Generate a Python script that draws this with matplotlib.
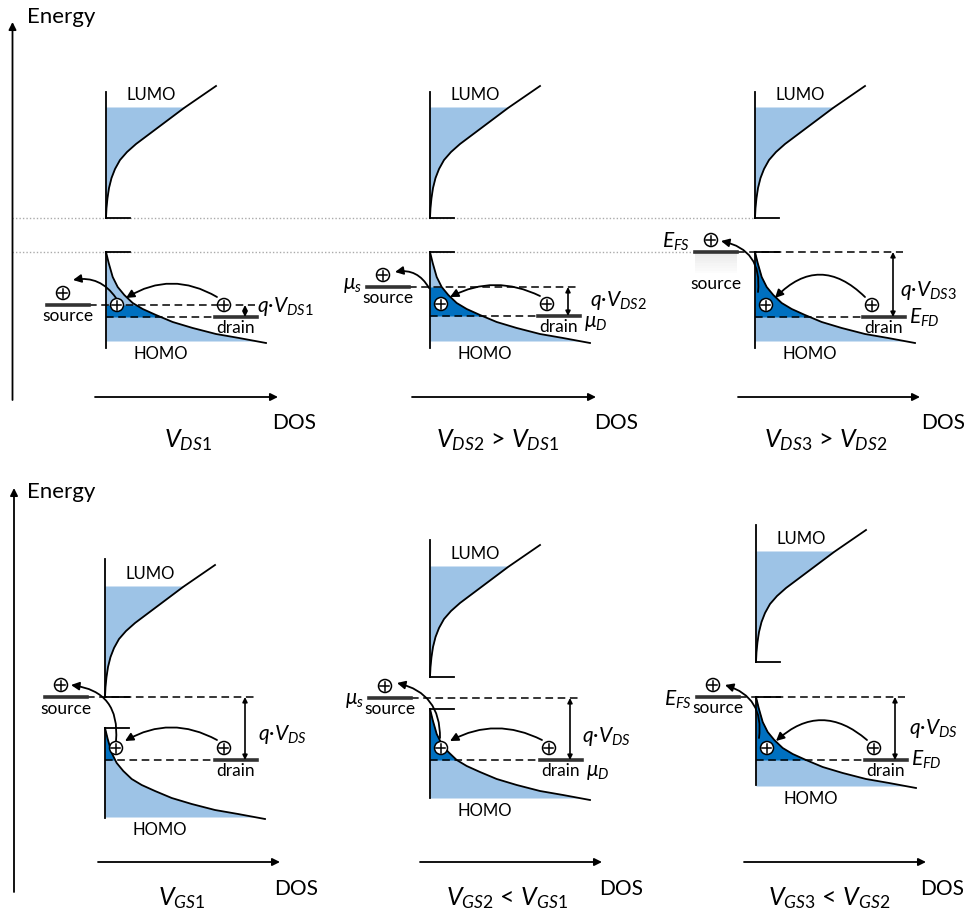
import numpy as np
import matplotlib.pyplot as plt
from matplotlib.patches import Circle, Rectangle

plt.rcParams['font.family'] = ['Lato', 'DejaVu Sans']
plt.rcParams['mathtext.fontset'] = 'custom'
plt.rcParams['mathtext.rm'] = 'Lato'
plt.rcParams['mathtext.it'] = 'Lato:italic'
plt.rcParams['mathtext.bf'] = 'Lato:bold'

LIGHT = '#9dc3e6'
DARK = '#0070c0'
BAR = '#333333'

# DOS shapes (px offsets from the DOS axis)
lumo_h = [0, 10, 20, 30, 40, 49, 58, 66, 74, 83, 95, 110, 132]
lumo_dx = [0, 0.5, 1.5, 3, 5.5, 9, 14, 21, 30, 42, 58, 78, 110]
homo_d = [0, 11, 25, 35, 43, 51, 57, 63, 70, 76, 82, 86, 91]
homo_dx = [0, 2.7, 6.7, 11.7, 18.3, 26.7, 36.7, 50, 66.7, 86.7, 110, 133, 160]
lumo_fill_h = 111
homo_fill_d = 89

# six panels: top row sweeps V_DS, bottom row sweeps V_GS
axis_x = [106, 430, 755, 105, 430, 756]
axis_top_h = [126, 126, 126, 138, 137, 137]
homo_axis_d = [96, 96, 96, 90, 89, 88]
lumo_bottom = [218, 218, 218, 697, 677, 662]
homo_top = [252, 252, 252, 728, 709, 697]
source_level = [305, 287, 252, 697, 698, 697]
drain_level = [317, 316, 317, 760, 760, 760]
source_x = [47, 367, 695, 45, 369, 697]
drain_x = [215, 538, 863, 215, 540, 865]
source_text_dy = [3, 3, 24, 4, 3, 3]

source_tags = ['', r'$μ_s$', r'$E_{FS}$', '', r'$μ_s$', r'$E_{FS}$']
source_tag_dy = [0, -2, -10, 0, 2, 3]
drain_tags = ['', r'$μ_D$', r'$E_{FD}$', '', r'$μ_D$', r'$E_{FD}$']
drain_tag_dy = [0, 7, 1, 0, 12, 0]
qv_labels = [r'$q·V_{DS1}$', r'$q·V_{DS2}$', r'$q·V_{DS3}$',
             r'$q·V_{DS}$', r'$q·V_{DS}$', r'$q·V_{DS}$']
qv_text_dx = [12, 22, 7, 13, 12, 14]
qv_text_y = [306, 300, 290, 735, 737, 728]
captions = [r'$V_{DS1}$', r'$V_{DS2}$ > $V_{DS1}$', r'$V_{DS3}$ > $V_{DS2}$',
            r'$V_{GS1}$', r'$V_{GS2}$ < $V_{GS1}$', r'$V_{GS3}$ < $V_{GS2}$']

hop_in_rad = [0.3, 0.25, 0.5, 0.28, 0.26, 0.44]
hop_out_start = [(-1, -7), (-12, -16), (-8, -13), (0, -7), (-1, -10), (-8, -10)]
hop_out_end = [(10, -13), (12, -3), (10, 1), (10, 0), (12, -3), (12, 0)]
hop_out_rad = [0.32, 0.35, 0.45, 0.48, 0.4, 0.42]

dos_x0 = [95, 412, 738, 98, 420, 744]
dos_x1 = [278, 596, 920, 280, 602, 926]
dos_y = [397, 397, 397, 862, 862, 862]
dos_text_x = [294, 616, 943, 296, 621, 942]
dos_text_y = [423, 423, 423, 889, 889, 889]
caption_x = [188, 497, 826, 182, 507, 829]
caption_y = [440, 440, 440, 898, 898, 898]

energy_x = [12.5, 14]
energy_top = [22, 488]
energy_bottom = [400, 892]
energy_label_y = [17, 492]

fig = plt.figure(figsize=(9.69, 9.15), dpi=100)
ax = fig.add_axes([0, 0, 1, 1])
ax.set_xlim(0, 969)
ax.set_ylim(915, 0)
ax.axis('off')


def plus(x, y):
    ax.add_patch(Circle((x, y), 6.5, fc='white', ec='k', lw=1.1, zorder=6))
    ax.plot([x - 4.5, x + 4.5], [y, y], color='k', lw=1.1, zorder=7)
    ax.plot([x, x], [y - 4.5, y + 4.5], color='k', lw=1.1, zorder=7)


def arrow(p0, p1, style='-|>', rad=0.0, ms=12, lw=1.3):
    ax.annotate('', xy=p1, xytext=p0,
                arrowprops=dict(arrowstyle=style, color='k', lw=lw,
                                shrinkA=0, shrinkB=0, mutation_scale=ms,
                                connectionstyle=f'arc3,rad={rad}'),
                zorder=5)


# energy axes and the gap guides of the top row
for k in range(2):
    arrow((energy_x[k], energy_bottom[k]), (energy_x[k], energy_top[k]), ms=11, lw=1.3)
    ax.text(27, energy_label_y[k], 'Energy', fontsize=16, ha='left', va='center')
ax.plot([12, 753], [218, 218], color='#aaaaaa', lw=1, ls=(0, (1, 1.5)))
ax.plot([12, 695], [252, 252], color='#aaaaaa', lw=1, ls=(0, (1, 1.5)))

for i in range(6):
    x0 = axis_x[i]
    lb = lumo_bottom[i]
    ht = homo_top[i]
    sl = source_level[i]
    dl = drain_level[i]

    # LUMO
    hh = np.linspace(0, lumo_fill_h, 80)
    ax.fill_betweenx(lb - hh, x0, x0 + np.interp(hh, lumo_h, lumo_dx), color=LIGHT, lw=0, zorder=1)
    ax.plot(x0 + np.array(lumo_dx), lb - np.array(lumo_h), color='k', lw=1.3, zorder=3)
    ax.plot([x0, x0], [lb - axis_top_h[i], lb], color='k', lw=1.3, zorder=3)
    ax.plot([x0, x0 + 24], [lb, lb], color='k', lw=1.3, zorder=3)
    ax.text(x0 + 45, lb - 123, 'LUMO', fontsize=12, ha='center', va='center')

    # HOMO
    dd = np.linspace(0, homo_fill_d, 80)
    ax.fill_betweenx(ht + dd, x0, x0 + np.interp(dd, homo_d, homo_dx), color=LIGHT, lw=0, zorder=1)
    dd = np.linspace(max(sl, ht) - ht, dl - ht, 40)
    ax.fill_betweenx(ht + dd, x0, x0 + np.interp(dd, homo_d, homo_dx), color=DARK, lw=0, zorder=2)
    ax.plot(x0 + np.array(homo_dx), ht + np.array(homo_d), color='k', lw=1.3, zorder=3)
    ax.plot([x0, x0], [ht, ht + homo_axis_d[i]], color='k', lw=1.3, zorder=3)
    ax.plot([x0, x0 + 24], [ht, ht], color='k', lw=1.3, zorder=3)
    ax.text(x0 + 55, ht + 102, 'HOMO', fontsize=12, ha='center', va='center')

    # contacts
    qx = drain_x[i] + 30
    ax.plot([source_x[i] + 42, qx + 10], [sl, sl], color='k', lw=1.1, ls=(0, (5, 3)), zorder=2)
    ax.plot([x0, drain_x[i]], [dl, dl], color='k', lw=1.1, ls=(0, (5, 3)), zorder=2)
    if i == 2:
        # faint shadow under the raised source contact
        for s in range(8):
            ax.add_patch(Rectangle((source_x[i], sl + 1 + 2.5 * s), 42, 2.5,
                                   fc='#d9d9d9', ec='none', alpha=0.5 - 0.06 * s, zorder=1))
    ax.plot([source_x[i], source_x[i] + 42], [sl, sl], color=BAR, lw=2.6, zorder=4)
    ax.plot([drain_x[i], drain_x[i] + 42], [dl, dl], color=BAR, lw=2.6, zorder=4)
    ax.text(source_x[i] + 21, sl + source_text_dy[i], 'source', fontsize=12.5, ha='center', va='top')
    ax.text(drain_x[i] + 21, dl + 3, 'drain', fontsize=12.5, ha='center', va='top')
    if source_tags[i]:
        ax.text(source_x[i] - 5, sl + source_tag_dy[i], source_tags[i], fontsize=15,
                ha='right', va='center')
    if drain_tags[i]:
        ax.text(drain_x[i] + 46, dl + drain_tag_dy[i], drain_tags[i], fontsize=15,
                ha='left', va='center')

    # q*V between the two Fermi levels
    arrow((qx, sl), (qx, dl), style='<|-|>', ms=7, lw=1.2)
    ax.text(qx + qv_text_dx[i], qv_text_y[i], qv_labels[i], fontsize=15, ha='left', va='center')

    # holes and hops
    src = (source_x[i] + 16, sl - 12)
    band = (x0 + 11, dl - 12)
    drn = (drain_x[i] + 9, dl - 12)
    plus(*src)
    plus(*band)
    plus(*drn)
    arrow((drn[0] - 7, drn[1] - 8), (band[0] + 9, band[1] - 7), rad=hop_in_rad[i])
    arrow((band[0] + hop_out_start[i][0], band[1] + hop_out_start[i][1]),
          (src[0] + hop_out_end[i][0], src[1] + hop_out_end[i][1]), rad=hop_out_rad[i])

    # DOS axis and caption
    arrow((dos_x0[i], dos_y[i]), (dos_x1[i], dos_y[i]), ms=11, lw=1.3)
    ax.text(dos_text_x[i], dos_text_y[i], 'DOS', fontsize=15, ha='center', va='center')
    ax.text(caption_x[i], caption_y[i], captions[i], fontsize=18, ha='center', va='center')

fig.savefig('out.png', dpi=100)
